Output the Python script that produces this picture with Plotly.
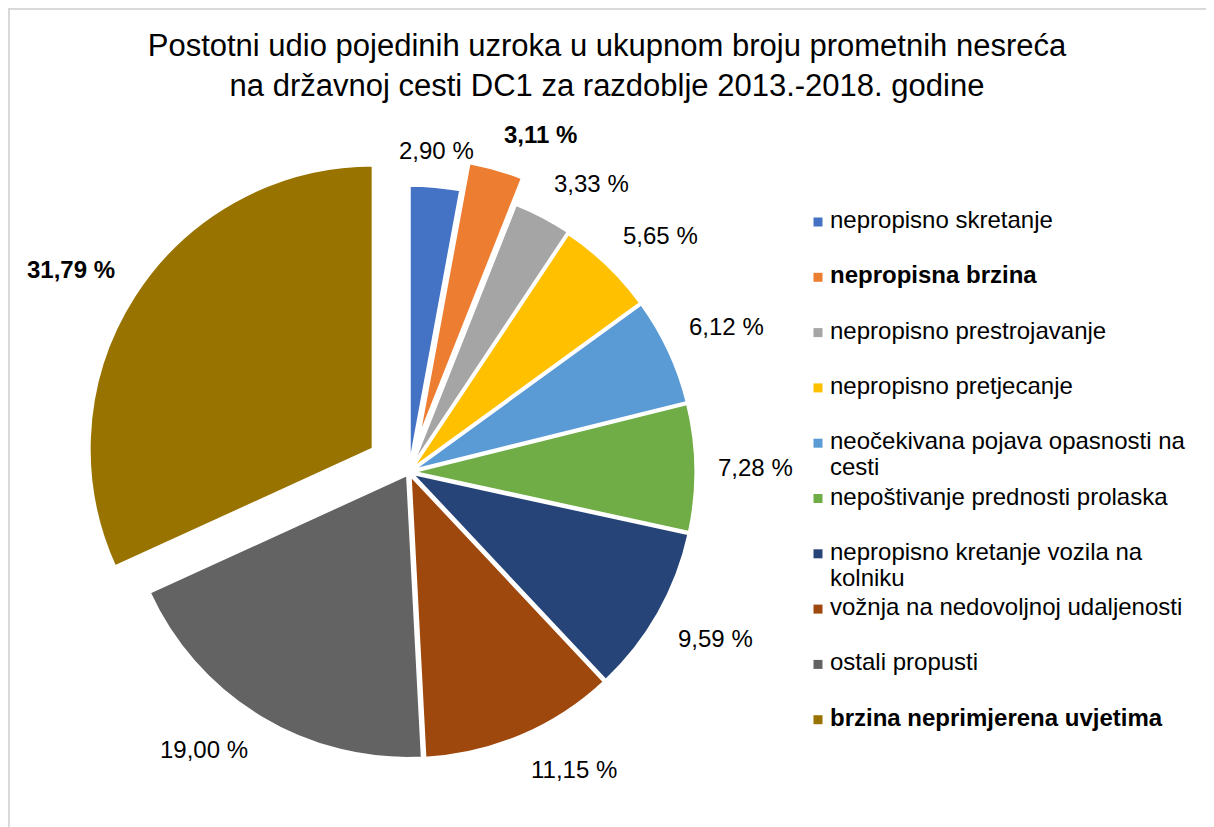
import math
import plotly.graph_objects as go

# uzroci prometnih nesreca, DC1, 2013.-2018.
uzroci = [
    "nepropisno skretanje",
    "nepropisna brzina",
    "nepropisno prestrojavanje",
    "nepropisno pretjecanje",
    "neočekivana pojava opasnosti na<br>cesti",
    "nepoštivanje prednosti prolaska",
    "nepropisno kretanje vozila na<br>kolniku",
    "vožnja na nedovoljnoj udaljenosti",
    "ostali propusti",
    "brzina neprimjerena uvjetima",
]
postotci = [2.90, 3.11, 3.33, 5.65, 6.12, 7.28, 9.59, 11.15, 19.00, 31.79]
boje = ["#4472C4", "#ED7D31", "#A5A5A5", "#FFC000", "#5B9BD5",
        "#70AD47", "#264478", "#9E480E", "#636363", "#997300"]
istaknuto = [False, True, False, False, False, False, False, False, False, True]
izvuceno = [0.01, 0.11, 0.015, 0.01, 0.01, 0.01, 0.01, 0.01, 0.01, 0.15]

def podebljaj(t, b):
    return f"<b>{t}</b>" if b else t

# oznake u hrvatskom formatu (decimalni zarez)
oznake = [podebljaj(f"{p:.2f} %".replace(".", ","), b) for p, b in zip(postotci, istaknuto)]

W, H = 1214, 827
FONT = "Liberation Sans, Arial"
cx, cy, R = 401, 464, 284
half = R * (1 + max(izvuceno))

fig = go.Figure()
fig.add_trace(go.Pie(
    labels=[u.replace("<br>", " ") for u in uzroci],
    values=postotci,
    textinfo="none",
    marker=dict(colors=boje, line=dict(color="white", width=3)),
    pull=izvuceno,
    sort=False,
    direction="clockwise",
    rotation=0,
    showlegend=False,
    hoverinfo="label+percent",
    domain=dict(x=[(cx - half) / W, (cx + half) / W],
                y=[(H - cy - half) / H, (H - cy + half) / H]),
))

# oznake postotaka izvan kruga, kao u Excelu (kut sredine isjecka)
ukupno = sum(postotci)
kum = 0
for p, tekst, pull in zip(postotci, oznake, izvuceno):
    kut = math.radians((kum + p / 2) / ukupno * 360)
    kum += p
    ux, uy = math.sin(kut), -math.cos(kut)
    d = R * pull + R + 20
    xa = "center" if abs(ux) < 0.2 else ("left" if ux > 0 else "right")
    ya = "bottom" if uy < -0.3 else ("top" if uy > 0.3 else "middle")
    fig.add_annotation(x=cx + d * ux, y=cy + d * uy, xref="x", yref="y",
                       text=tekst, showarrow=False, xanchor=xa, yanchor=ya,
                       font=dict(size=24, color="black", family=FONT))

# legenda desno (kao u Excelu)
leg_x, leg_y0, leg_dy, red = 810, 214, 55.3, 26
ys = [leg_y0 + i * leg_dy for i in range(len(uzroci))]
fig.add_trace(go.Scatter(
    x=[leg_x] * len(uzroci), y=ys, mode="markers",
    marker=dict(symbol="square", size=9, color=boje),
    hoverinfo="skip", showlegend=False,
))
tx, ty, tt = [], [], []
for y, u, b in zip(ys, uzroci, istaknuto):
    for k, linija in enumerate(u.split("<br>")):
        tx.append(leg_x + 12)
        ty.append(y + k * red)
        tt.append(podebljaj(linija, b))
fig.add_trace(go.Scatter(
    x=tx, y=ty, mode="text", text=tt, textposition="middle right",
    textfont=dict(size=24, color="black", family=FONT),
    hoverinfo="skip", showlegend=False,
))

fig.update_layout(
    width=W, height=H,
    margin=dict(l=0, r=0, t=0, b=0, autoexpand=False),
    paper_bgcolor="white",
    plot_bgcolor="rgba(0,0,0,0)",
    font=dict(family=FONT, color="black"),
    showlegend=False,
    xaxis=dict(range=[0, W], visible=False, fixedrange=True),
    yaxis=dict(range=[H, 0], visible=False, fixedrange=True),
    title=dict(
        text="Postotni udio pojedinih uzroka u ukupnom broju prometnih nesreća<br>"
             "na državnoj cesti DC1 za razdoblje 2013.-2018. godine",
        x=599 / W, xref="container", xanchor="center",
        y=1 - 48 / H, yref="container", yanchor="middle",
        font=dict(size=31, color="black"),
    ),
    shapes=[dict(type="rect", xref="paper", yref="paper",
                 x0=1 / W, y0=-0.05, x1=1.05, y1=1 - 1 / H,
                 line=dict(color="#D9D9D9", width=2))],
)

fig.write_html("out.html")
